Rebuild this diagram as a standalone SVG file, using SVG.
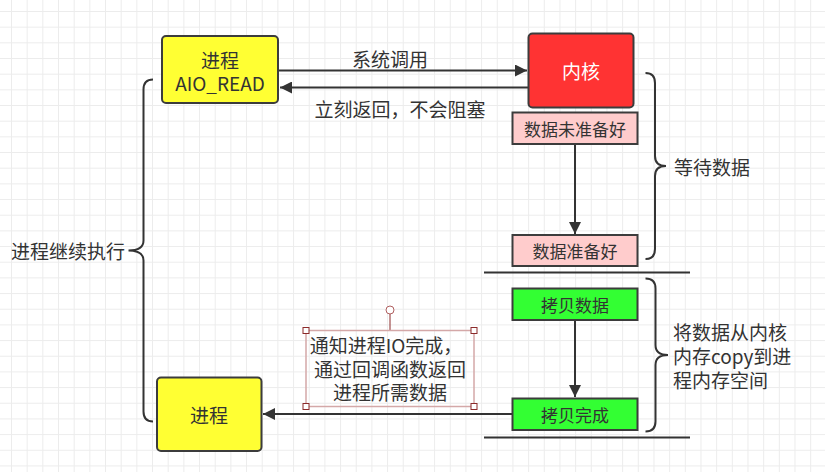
<svg xmlns="http://www.w3.org/2000/svg" width="825" height="472" viewBox="0 0 825 472">
<style>
  text { font-family: "Microsoft YaHei", "Noto Sans CJK SC", "Noto Sans", sans-serif; font-size: 19px; fill: #333; }
  .c { text-anchor: middle; dominant-baseline: central; }
  .s { font-size: 17px; }
  .box { stroke: #3c3c3c; stroke-width: 2; }
  .edge { stroke: #333; stroke-width: 2; fill: none; }
  .brace { stroke: #333; stroke-width: 2; fill: none; }
  .handle { fill: #fff; stroke: #8b2a2a; stroke-width: 1; }
</style>
<defs>
  <pattern id="grid" patternUnits="userSpaceOnUse" x="11" y="11" width="15.67" height="15.67">
    <path d="M0 0.5 H15.67 M0.5 0 V15.67" stroke="#ececec" stroke-width="1" fill="none"/>
  </pattern>
  <marker id="arr" viewBox="0 0 10 10" refX="10" refY="5" markerWidth="6" markerHeight="6" markerUnits="strokeWidth" orient="auto">
    <path d="M0 0 L10 5 L0 10 Z" fill="#333"/>
  </marker>
</defs>
<rect width="825" height="472" fill="#fff"/>
<rect width="825" height="472" fill="url(#grid)"/>

<g id="connectors">
  <line class="edge" x1="279" y1="70.5" x2="527" y2="70.5" marker-end="url(#arr)"/>
  <line class="edge" x1="528" y1="87.5" x2="280" y2="87.5" marker-end="url(#arr)"/>
  <line class="edge" x1="575" y1="144" x2="575" y2="234" marker-end="url(#arr)"/>
  <line class="edge" x1="575" y1="320" x2="575" y2="397" marker-end="url(#arr)"/>
  <line class="edge" x1="512" y1="414" x2="263" y2="414" marker-end="url(#arr)"/>
  <text class="c" x="390" y="58">系统调用</text>
  <text class="c" x="400" y="108">立刻返回，不会阻塞</text>
</g>

<g id="sep-lines">
  <line x1="484" y1="272.5" x2="690" y2="272.5" stroke="#333" stroke-width="2"/>
  <line x1="484" y1="437.5" x2="690" y2="437.5" stroke="#333" stroke-width="2"/>
</g>

<g id="node-aio-read">
  <rect class="box" x="162" y="36" width="116" height="67" rx="4" fill="#ffff33"/>
  <text class="c" x="220" y="59">进程</text>
  <text class="c" x="220" y="82.5">AIO_READ</text>
</g>

<g id="node-kernel">
  <rect class="box" x="528.5" y="33.5" width="105" height="74" rx="4" fill="#ff3333"/>
  <text class="c" x="581" y="70" style="fill:#fff">内核</text>
</g>

<g id="node-not-ready">
  <rect class="box" x="512.5" y="112.5" width="125" height="31.5" fill="#ffcccc"/>
  <text class="c s" x="575" y="128.5">数据未准备好</text>
</g>

<g id="node-ready">
  <rect class="box" x="512.5" y="235" width="125" height="31" fill="#ffcccc"/>
  <text class="c s" x="575" y="250.5">数据准备好</text>
</g>

<g id="node-copy">
  <rect class="box" x="512.5" y="288.5" width="125" height="31.5" fill="#33ff33"/>
  <text class="c s" x="575" y="304">拷贝数据</text>
</g>

<g id="node-copy-done">
  <rect class="box" x="512.5" y="398.5" width="125" height="31.5" fill="#33ff33"/>
  <text class="c s" x="575" y="414">拷贝完成</text>
</g>

<g id="node-process">
  <rect class="box" x="157" y="377.5" width="104.5" height="73.5" rx="4" fill="#ffff33"/>
  <text class="c" x="209" y="414">进程</text>
</g>

<g id="brace-wait">
  <path class="brace" d="M645.5 73 Q655 73 655 83 V156 Q655 166 666 166 Q655 166 655 176 V249 Q655 259 645.5 259"/>
  <text x="674" y="166" dominant-baseline="central">等待数据</text>
</g>

<g id="brace-copy">
  <path class="brace" d="M645.5 278.5 Q655.5 278.5 655.5 288.5 V345 Q655.5 355 668 355 Q655.5 355 655.5 365 V421.5 Q655.5 431.5 645.5 431.5"/>
  <text x="673" y="331" dominant-baseline="central">将数据从内核</text>
  <text x="673" y="355" dominant-baseline="central">内存copy到进</text>
  <text x="673" y="379" dominant-baseline="central">程内存空间</text>
</g>

<g id="brace-left">
  <path class="brace" d="M153 79.5 Q143.5 79.5 143.5 89.5 V240.5 Q143.5 250.5 128.5 250.5 Q143.5 250.5 143.5 260.5 V411.5 Q143.5 421.5 153 421.5"/>
  <text x="125" y="250.5" text-anchor="end" dominant-baseline="central">进程继续执行</text>
</g>

<g id="note">
  <line x1="390" y1="314" x2="390" y2="330.5" stroke="#8b2a2a" stroke-width="1"/>
  <circle cx="390" cy="310" r="4" fill="#fff" stroke="#b06060" stroke-width="1"/>
  <rect x="306" y="330.5" width="168" height="76" fill="none" stroke="#d4a8a8" stroke-width="1.5"/>
  <rect class="handle" x="303" y="327.5" width="6" height="6"/>
  <rect class="handle" x="471" y="327.5" width="6" height="6"/>
  <rect class="handle" x="303" y="403.5" width="6" height="6"/>
  <rect class="handle" x="471" y="403.5" width="6" height="6"/>
  <text class="c" x="386" y="344.5">通知进程IO完成，</text>
  <text class="c" x="390" y="368">通过回调函数返回</text>
  <text class="c" x="390" y="391.5">进程所需数据</text>
</g>
</svg>
